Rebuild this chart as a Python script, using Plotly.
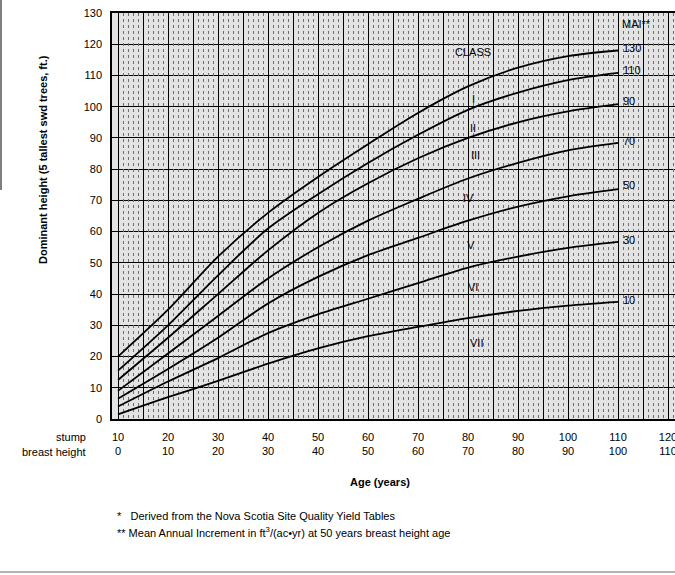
import plotly.graph_objects as go

# breast-height age (years); stump age = bh age + 10
bh_age = [0, 10, 20, 30, 40, 50, 60, 70, 80, 90, 100]
stump_labels = ["10", "20", "30", "40", "50", "60", "70", "80", "90", "100", "110", "120"]
bh_labels = ["0", "10", "20", "30", "40", "50", "60", "70", "80", "90", "100", "110"]

classes = ["I", "II", "III", "IV", "V", "VI", "VII"]
mai = ["130", "110", "90", "70", "50", "30", "10"]

h_I   = [20, 35, 52, 66, 77.5, 88, 98, 106.5, 112.5, 116.2, 118]
h_II  = [15.5, 30, 46, 61, 72, 82, 91, 99, 104.5, 108.5, 110.8]
h_III = [12.5, 26, 40, 54, 66, 75.5, 83.5, 90, 95, 98.5, 100.8]
h_IV  = [9, 21, 33, 45, 55, 63.5, 70.5, 77, 82, 86, 88.4]
h_V   = [6.5, 16, 26, 37, 45.5, 52.5, 58, 63.5, 68, 71.3, 73.6]
h_VI  = [4, 12, 19.5, 27.5, 33.5, 38.5, 43.5, 48.5, 52, 54.8, 56.7]
h_VII = [1.5, 7, 12.2, 17.7, 22.6, 26.5, 29.5, 32.3, 34.6, 36.3, 37.5]
curves = [h_I, h_II, h_III, h_IV, h_V, h_VI, h_VII]

# label positions (data coords)
class_lbl_x = [71, 71, 71.4, 70, 70.6, 71, 71.6]
class_lbl_y = [102.5, 93.2, 84.5, 70.8, 55.7, 42.3, 24.3]
mai_lbl_y = [118.8, 111.7, 101.8, 89, 74.9, 57.3, 38.1]

FONT = "Liberation Sans, Arial, Helvetica, sans-serif"
XR = [-1.2, 111.4]

fig = go.Figure()
for name, h in zip(classes, curves):
    fig.add_trace(go.Scatter(x=bh_age, y=h, mode="lines", name=name,
                             line=dict(color="black", width=1.8, shape="spline", smoothing=0.8),
                             showlegend=False, hoverinfo="skip"))
# empty trace so the texture axis is drawn
fig.add_trace(go.Scatter(x=[None], y=[None], xaxis="x2", mode="lines",
                         showlegend=False, hoverinfo="skip"))

ann = []
ann.append(dict(x=71, y=117.5, text="CLASS", showarrow=False, font=dict(size=11, color="black")))
for c, x, y in zip(classes, class_lbl_x, class_lbl_y):
    ann.append(dict(x=x, y=y, text=c, showarrow=False, font=dict(size=11, color="black")))
ann.append(dict(x=100.3, y=126.5, text="MAI**", showarrow=False, xanchor="left",
                font=dict(size=11, color="black")))
for m, y in zip(mai, mai_lbl_y):
    ann.append(dict(x=100.6, y=y, text=m, showarrow=False, xanchor="left",
                    font=dict(size=11, color="black")))

# axis titles / row labels / footnotes (paper coords)
L, R, T, B = 112, 675, 13, 419
W, H = 675, 575
def px(xp):
    return (xp - L) / (R - L)
def py(yp):
    return (B - yp) / (B - T)

def pann(x, y, text, xanchor="center", **kw):
    return dict(x=px(x), y=py(y), xref="paper", yref="paper", xanchor=xanchor,
                yanchor="middle", text=text, showarrow=False,
                font=dict(size=11, color="black"), **kw)

ann.append(pann(43, 160, "<b>Dominant height (5 tallest swd trees, ft.)</b>", textangle=-90))
ann.append(pann(88, 437, "stump", xanchor="right"))
ann.append(pann(88, 452, "breast height", xanchor="right"))
ann.append(pann(380, 482, "<b>Age (years)</b>"))
ann.append(pann(115, 516, "*   Derived from the Nova Scotia Site Quality Yield Tables", xanchor="left"))
ann.append(pann(115, 532, "** Mean Annual Increment in ft<sup>3</sup>/(ac•yr) at 50 years breast height age",
                xanchor="left"))

shapes = [
    dict(type="line", xref="paper", yref="paper", x0=px(0), x1=px(675), y0=py(572), y1=py(572),
         line=dict(color="#9a9a9a", width=1.5)),
    dict(type="line", xref="paper", yref="paper", x0=px(1), x1=px(1), y0=py(0), y1=py(190),
         line=dict(color="#555", width=1.5)),
]

tickvals = list(range(0, 111, 10))
ticktext = [f"{s}<br>{b}" for s, b in zip(stump_labels, bh_labels)]
texture_vals = [v for v in range(-1, 112) if v % 5 != 0]

fig.update_layout(
    width=W, height=H,
    margin=dict(l=L, r=W - R, t=T, b=H - B, autoexpand=False),
    paper_bgcolor="white", plot_bgcolor="#e3e3e3",
    font=dict(family=FONT, size=11, color="black"),
    annotations=ann, shapes=shapes,
    xaxis=dict(range=XR, tickmode="array", tickvals=tickvals, ticktext=ticktext,
               showgrid=True, gridcolor="black", gridwidth=1.2, zeroline=False,
               showline=True, linecolor="black", linewidth=1.5, mirror=True, ticks="",
               tickfont=dict(size=11), automargin=False, ticklabeloverflow="allow",
               ticklabelstandoff=7,
               minor=dict(dtick=5, tick0=0, showgrid=True, gridcolor="black", gridwidth=1.2)),
    xaxis2=dict(range=XR, overlaying="x", anchor="y", tickmode="array", tickvals=texture_vals,
                showticklabels=False, ticks="", showgrid=True, gridcolor="#6e6e6e",
                gridwidth=1, griddash="dot", zeroline=False, showline=False, automargin=False),
    yaxis=dict(range=[0, 130], dtick=10, showgrid=True, gridcolor="black", gridwidth=1.2,
               zeroline=False, showline=True, linecolor="black", linewidth=1.5, mirror=True,
               ticks="", tickfont=dict(size=11), ticklabelstandoff=6, automargin=False),
)

fig.write_html("out.html", config={"displayModeBar": False},
               post_script="document.body.style.margin='0';document.body.style.overflow='hidden';")
